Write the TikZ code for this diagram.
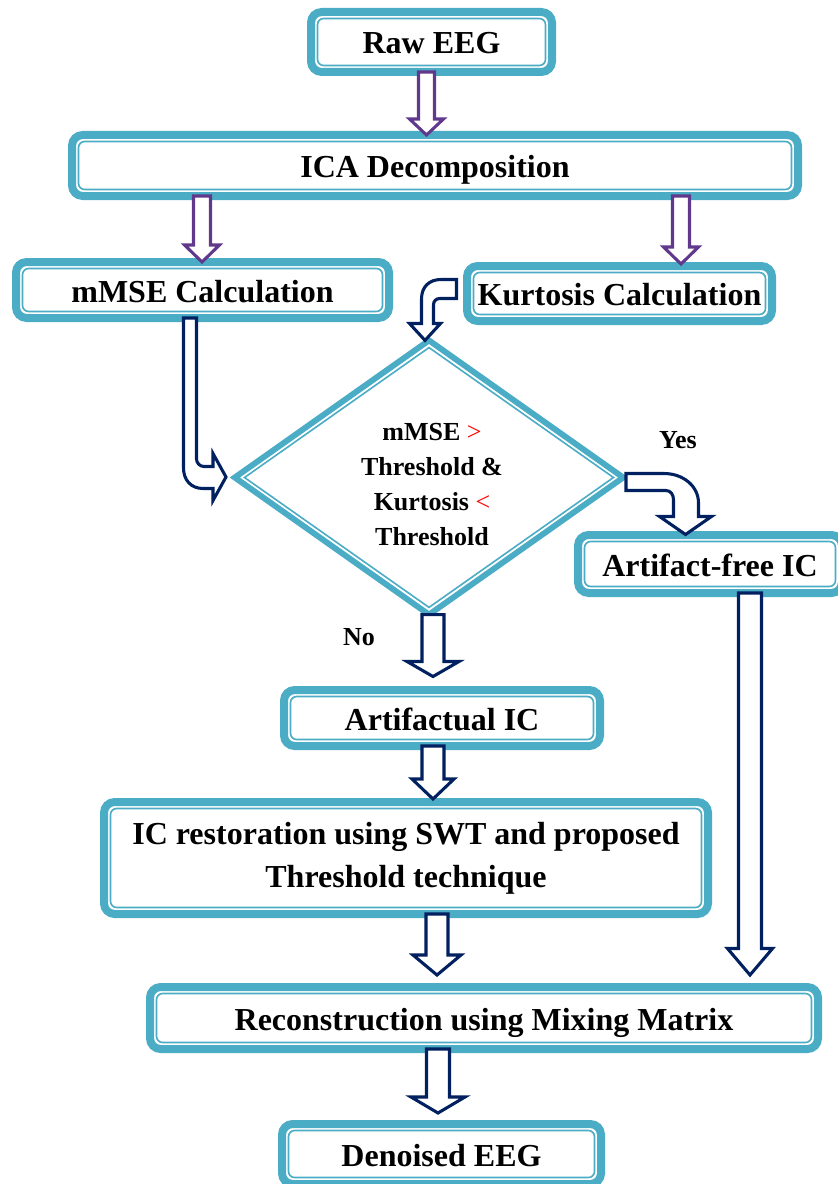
\documentclass[tikz,border=0pt]{standalone}
\usepackage{fontspec}
\setmainfont{Liberation Serif}
\usetikzlibrary{shapes.geometric,calc}

\definecolor{band}{HTML}{4BACC6}
\definecolor{purp}{HTML}{60398C}
\definecolor{navy}{HTML}{002060}

% Outlined block arrow pointing down.
% #1 style, #2 start point, #3 target point, #4 shaft half width (px),
% #5 head half width (px), #6 head length (px), #7 lift of the tip above the target (px)
\newcommand\blockdown[7]{%
  \draw[#1] let \p1=(#2), \p2=(#3) in
    ({\x2-#4*0.75pt},{\y1})
 -- ({\x2-#4*0.75pt},{\y2+(#7+#6)*0.75pt})
 -- ({\x2-#5*0.75pt},{\y2+(#7+#6)*0.75pt})
 -- ({\x2},{\y2+#7*0.75pt})
 -- ({\x2+#5*0.75pt},{\y2+(#7+#6)*0.75pt})
 -- ({\x2+#4*0.75pt},{\y2+(#7+#6)*0.75pt})
 -- ({\x2+#4*0.75pt},{\y1}) -- cycle;}

\begin{document}
\begin{tikzpicture}[x=0.75pt,y=-0.75pt,
  box/.style={draw=band, line width=6pt, rounded corners=8pt, fill=white,
    inner sep=0pt, outer sep=0pt, align=center,
    font=\fontsize{24}{32.25}\selectfont\bfseries},
  oneline/.style={text height=18pt, text depth=0pt},
  bw/.style={minimum width=#1*0.75pt},
  bh/.style={minimum height=#1*0.75pt},
  innerline/.style={draw=band, line width=1.2pt, rounded corners=4.5pt},
  decision/.style={diamond, draw=band, line width=4.4pt, fill=white,
    inner sep=0pt, outer sep=0pt},
  purparrow/.style={draw=purp, line width=2.3pt, fill=white, line join=miter},
  navyarrow/.style={draw=navy, line width=2.3pt, fill=white, line join=miter},
  lbl/.style={font=\fontsize{19.5}{26.25}\selectfont\bfseries, align=center}]

\useasboundingbox (0,0) rectangle (838,1184);
\fill[white] (0,0) rectangle (838,1184);

% process boxes
\node[box, oneline, bw=241, bh=60]  (raw)    at (431.5,42)   {Raw EEG};
\node[box, oneline, bw=726, bh=61]  (ica)    at (435,165.5)  {ICA Decomposition};
\node[box, oneline, bw=373, bh=56]  (mmse)   at (202.5,290)  {mMSE Calculation};
\node[box, oneline, bw=305, bh=55]  (kurt)   at (619.5,293.5){Kurtosis Calculation};
\node[box, oneline, bw=264, bh=58]  (afree)  at (710,564)    {Artifact-free IC};
\node[box, oneline, bw=316, bh=56]  (artif)  at (442,718)    {Artifactual IC};
\node[box, bw=604, bh=112] (restor) at (406,858)    {IC restoration using SWT and proposed\\Threshold technique};
\node[box, oneline, bw=668, bh=62]  (recon)  at (484,1018)   {Reconstruction using Mixing Matrix};
\node[box, oneline, bw=319, bh=60]  (denois) at (441.5,1154) {Denoised EEG};

% thin inner outline of every box
\foreach \n in {raw,ica,mmse,kurt,afree,artif,restor,recon,denois}
  \draw[innerline] ([shift={(4.9pt,4.9pt)}]\n.south west)
    rectangle ([shift={(-4.9pt,-4.9pt)}]\n.north east);

% decision diamond
\node[decision, minimum width=388.4*0.75pt, minimum height=274.2*0.75pt]
  (dec) at (429,477.5) {};
\draw[band, line width=1.2pt]
  ([xshift=7.3pt]dec.west) -- ([yshift=-5.4pt]dec.north)
  -- ([xshift=-7.3pt]dec.east) -- ([yshift=5.4pt]dec.south) -- cycle;
\node[lbl] (cond) at (432,485)
  {mMSE {\mdseries\color{red}>}\\Threshold \&\\Kurtosis {\mdseries\color{red}<}\\Threshold};

% arrow columns
\coordinate (cA) at (426.5,0);
\coordinate (cB) at (202,0);
\coordinate (cC) at (681,0);
\coordinate (cD) at (433,0);
\coordinate (cE) at (433,0);
\coordinate (cF) at (437,0);
\coordinate (cG) at (438,0);
\coordinate (cH) at (750,0);

% straight block arrows
\blockdown{purparrow}{raw.south -| cA}{ica.north -| cA}{8}{17}{16}{0}
\blockdown{purparrow}{ica.south -| cB}{mmse.north -| cB}{8.5}{17.5}{17}{0}
\blockdown{purparrow}{ica.south -| cC}{kurt.north -| cC}{8.5}{17.5}{17}{2}
\blockdown{navyarrow}{dec.south -| cD}{artif.north -| cD}{11}{26}{15}{13.5}
\blockdown{navyarrow}{artif.south -| cE}{restor.north -| cE}{11}{21}{20}{3}
\blockdown{navyarrow}{restor.south -| cF}{recon.north -| cF}{11}{24}{20}{12}
\blockdown{navyarrow}{recon.south -| cG}{denois.north -| cG}{11.5}{27}{16}{11}
\blockdown{navyarrow}{afree.south -| cH}{recon.north -| cH}{11.5}{22.5}{26.5}{12}

% bent block arrow: mMSE -> decision
\draw[navyarrow] (mmse.south -| 183.5,0) -- (183.5,468)
  .. controls (183.5,480) and (191,488.5) .. (203,488.5)
  -- (213,488.5) -- (213,500.5) -- (226,477) -- (213,453.5) -- (213,466.5)
  -- (204,466.5) .. controls (200,466.5) and (196.5,463) .. (196.5,459)
  -- (mmse.south -| 196.5,0) -- cycle;

% bent block arrow: Kurtosis -> decision
\draw[navyarrow] (456.5,279.5) -- (441,279.5)
  .. controls (429,279.5) and (421.5,287) .. (421.5,299)
  -- (421.5,323.5) -- (409.5,323.5) -- (dec.north -| 425,0) -- (440.5,323.5)
  -- (433.5,323.5) -- (433.5,305)
  .. controls (433.5,301) and (436,298.5) .. (440,298.5)
  -- (456.5,298.5) -- cycle;

% bent block arrow: decision (Yes) -> Artifact-free IC
\draw[navyarrow] (626,473.5) -- (664,473.5)
  .. controls (683,473.5) and (698.5,486) .. (698.5,503)
  -- (698.5,516.5) -- (711.5,516.5) -- (685.5,534.5) -- (659.5,516.5)
  -- (673.5,516.5) -- (673.5,500)
  .. controls (673.5,495) and (671,490.5) .. (666,490.5)
  -- (626,490.5) -- cycle;

% branch labels
\node[lbl] (yes) at (678,440) {Yes};
\node[lbl] (no)  at (359,637) {No};

\end{tikzpicture}
\end{document}
